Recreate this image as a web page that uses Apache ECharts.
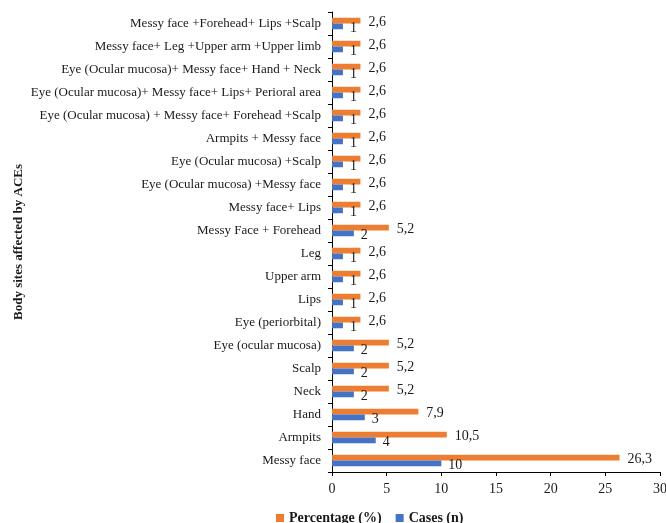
<!DOCTYPE html>
<html>
<head>
<meta charset="utf-8">
<script src="https://cdn.jsdelivr.net/npm/echarts@6/dist/echarts.min.js"></script>
<style>
  html, body { margin: 0; padding: 0; background: #fff; }
  #chart { width: 666px; height: 523px; }
</style>
</head>
<body>
<div id="chart"></div>
<script>
// Body sites, listed bottom to top along the category axis
const sites = [
  'Messy face',
  'Armpits',
  'Hand',
  'Neck',
  'Scalp',
  'Eye (ocular mucosa)',
  'Eye (periorbital)',
  'Lips',
  'Upper arm',
  'Leg',
  'Messy Face + Forehead',
  'Messy face+ Lips',
  'Eye (Ocular mucosa) +Messy face',
  'Eye (Ocular mucosa) +Scalp',
  'Armpits + Messy face',
  'Eye (Ocular mucosa) + Messy face+ Forehead +Scalp',
  'Eye (Ocular mucosa)+ Messy face+ Lips+ Perioral area',
  'Eye (Ocular mucosa)+ Messy face+ Hand + Neck',
  'Messy face+ Leg +Upper arm +Upper limb',
  'Messy face +Forehead+ Lips +Scalp'
];
const cases = [10, 4, 3, 2, 2, 2, 1, 1, 1, 1, 2, 1, 1, 1, 1, 1, 1, 1, 1, 1];
const percentage = [26.3, 10.5, 7.9, 5.2, 5.2, 5.2, 2.6, 2.6, 2.6, 2.6, 5.2, 2.6, 2.6, 2.6, 2.6, 2.6, 2.6, 2.6, 2.6, 2.6];
const xTicks = [0, 5, 10, 15, 20, 25, 30];

const FONT = '"Liberation Serif", "Times New Roman", serif';
const TEXT = '#1a1a1a';

// Decimal comma, as printed in the labels
const commaFmt = p => String(p.value).replace('.', ',');

const chart = echarts.init(document.getElementById('chart'), null, { renderer: 'canvas' });
chart.setOption({
  animation: false,
  textStyle: { fontFamily: FONT, color: TEXT },
  grid: { left: 332, right: 6, top: 12, bottom: 51, containLabel: false, outerBoundsMode: 'none' },
  legend: {
    data: ['Percentage (%)', 'Cases (n)'],
    left: 271,
    top: 506,
    itemWidth: 8,
    itemHeight: 8,
    itemGap: 14,
    icon: 'rect',
    textStyle: { fontFamily: FONT, fontSize: 14, fontWeight: 'bold', color: TEXT }
  },
  xAxis: {
    type: 'value',
    min: xTicks[0],
    max: xTicks[xTicks.length - 1],
    interval: 5,
    axisLine: { show: true, lineStyle: { color: '#000', width: 1 } },
    axisTick: { show: true, length: 4, lineStyle: { color: '#000' } },
    splitLine: { show: false },
    axisLabel: { fontFamily: FONT, fontSize: 14, color: TEXT, margin: 10 }
  },
  yAxis: {
    type: 'category',
    data: sites,
    name: 'Body sites affected by ACEs',
    nameLocation: 'middle',
    nameGap: 307,
    nameRotate: 90,
    nameTextStyle: { fontFamily: FONT, fontSize: 13, fontWeight: 'bold', color: TEXT },
    axisLine: { show: true, lineStyle: { color: '#000', width: 1 } },
    axisTick: { show: true, length: 4, alignWithLabel: false, lineStyle: { color: '#000' } },
    axisLabel: { fontFamily: FONT, fontSize: 13, color: TEXT, margin: 11 }
  },
  series: [
    {
      name: 'Percentage (%)',
      type: 'bar',
      data: percentage,
      barGap: '0%',
      barCategoryGap: '50%',
      itemStyle: { color: '#ED7D31' },
      label: { show: true, position: 'right', distance: 8, fontFamily: FONT, fontSize: 14, color: TEXT, formatter: commaFmt, offset: [0, 2] }
    },
    {
      name: 'Cases (n)',
      type: 'bar',
      data: cases,
      barGap: '0%',
      barCategoryGap: '50%',
      itemStyle: { color: '#4472C4' },
      label: { show: true, position: 'right', distance: 7, fontFamily: FONT, fontSize: 14, color: TEXT, formatter: commaFmt, offset: [0, 2] }
    }
  ]
});
</script>
</body>
</html>
